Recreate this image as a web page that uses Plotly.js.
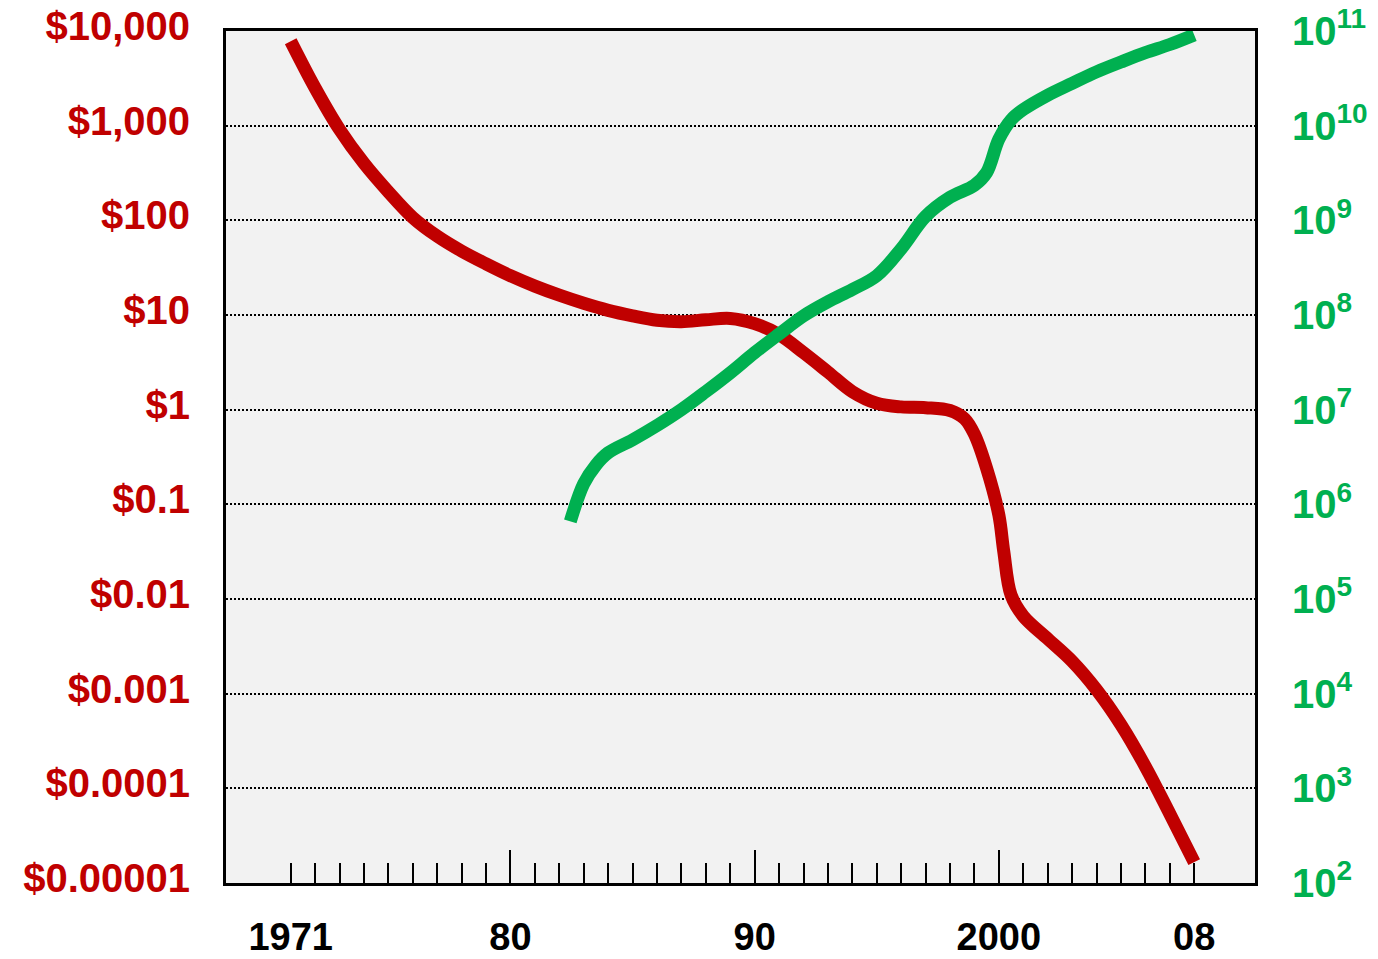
<!DOCTYPE html>
<html>
<head>
<meta charset="utf-8">
<script src="https://cdn.plot.ly/plotly-3.0.1.min.js"></script>
<style>html,body{margin:0;padding:0;background:#fff;}#chart{width:1378px;height:959px;}</style>
</head>
<body>
<div id="chart"></div>
<script>
// Cost (left axis, dollars) by year
const costYears = [1971, 1972, 1973, 1974, 1975, 1976, 1977, 1978, 1979, 1980, 1981, 1982, 1983, 1984, 1985, 1986, 1987, 1988, 1989, 1990, 1991, 1992, 1993, 1994, 1995, 1996, 1997, 1998, 1998.6, 1999, 1999.5, 2000, 2000.2, 2000.5, 2001, 2002, 2003, 2004, 2005, 2006, 2007, 2008];
const costValues = [7800, 2500, 910, 400, 200, 107, 68, 47.3, 34.7, 26, 20.2, 16.2, 13.3, 11.2, 9.8, 8.8, 8.5, 8.9, 9.2, 8.1, 6.2, 4.0, 2.5, 1.55, 1.17, 1.07, 1.05, 0.98, 0.8, 0.55, 0.24, 0.077, 0.032, 0.011, 0.0066, 0.0038, 0.0022, 0.0011, 0.00047, 0.00017, 0.000054, 0.0000166];

// Count (right axis) by year
const countYears = [1982.45, 1983, 1983.5, 1984, 1985, 1986, 1987, 1988, 1989, 1990, 1991, 1992, 1993, 1994, 1995, 1996, 1997, 1998, 1999, 1999.5, 2000, 2000.5, 2001, 2002, 2003, 2004, 2005, 2006, 2007, 2008];
const countValues = [6.6e5, 1.65e6, 2.6e6, 3.5e6, 4.8e6, 6.8e6, 1.0e7, 1.55e7, 2.45e7, 4.0e7, 6.3e7, 9.8e7, 1.38e8, 1.86e8, 2.6e8, 5.0e8, 1.1e9, 1.75e9, 2.35e9, 3.2e9, 7.2e9, 1.15e10, 1.48e10, 2.1e10, 2.8e10, 3.7e10, 4.7e10, 5.9e10, 7.2e10, 9.1e10];

// Tick labels
const xTickVals = [1971, 1980, 1990, 2000, 2008];
const xTickText = ['1971', '80', '90', '2000', '08'];
const minorTickYears = [];
for (let y = 1971; y <= 2008; y++) minorTickYears.push(y);
const majorTickYears = [1980, 1990, 2000];
const leftTickVals = [1e-5, 1e-4, 1e-3, 1e-2, 1e-1, 1, 10, 100, 1000, 10000];
const leftTickText = ['$0.00001', '$0.0001', '$0.001', '$0.01', '$0.1', '$1', '$10', '$100', '$1,000', '$10,000'];
const rightTickVals = [1e2, 1e3, 1e4, 1e5, 1e6, 1e7, 1e8, 1e9, 1e10, 1e11];
const rightTickText = ['10<sup>2</sup>', '10<sup>3</sup>', '10<sup>4</sup>', '10<sup>5</sup>', '10<sup>6</sup>', '10<sup>7</sup>', '10<sup>8</sup>', '10<sup>9</sup>', '10<sup>10</sup>', '10<sup>11</sup>'];

const RED = '#c00000', GREEN = '#00b050';
const FONT = 'Liberation Sans, Arial, sans-serif';
const xRange = [1968.35, 2010.49];

const traces = [
  {x: costYears, y: costValues, type: 'scatter', mode: 'lines', xaxis: 'x', yaxis: 'y',
   line: {color: RED, width: 13, shape: 'spline', smoothing: 1}, hoverinfo: 'skip'},
  {x: countYears, y: countValues, type: 'scatter', mode: 'lines', xaxis: 'x2', yaxis: 'y2',
   line: {color: GREEN, width: 13, shape: 'spline', smoothing: 1}, hoverinfo: 'skip'}
];

const layout = {
  width: 1378, height: 959,
  margin: {l: 226, r: 123, t: 31, b: 76},
  paper_bgcolor: '#ffffff', plot_bgcolor: '#f2f2f2',
  showlegend: false, hovermode: false,
  xaxis: {
    range: xRange, tickmode: 'array', tickvals: xTickVals, ticktext: xTickText,
    ticks: '', showgrid: false, zeroline: false,
    showline: true, linecolor: '#000', linewidth: 3, mirror: true,
    tickfont: {family: FONT, size: 38, color: '#000', weight: 'bold'},
    ticklabelstandoff: 18,
    minor: {tickmode: 'array', tickvals: minorTickYears, ticks: 'inside', ticklen: 20,
            tickwidth: 2, tickcolor: '#000', showgrid: false}
  },
  xaxis2: {
    overlaying: 'x', anchor: 'y2', side: 'bottom', range: xRange,
    tickmode: 'array', tickvals: majorTickYears, ticks: 'inside', ticklen: 33,
    tickwidth: 2, tickcolor: '#000', showticklabels: false, showgrid: false,
    zeroline: false, showline: false
  },
  yaxis: {
    type: 'log', range: [-5, 4], tickmode: 'array', tickvals: leftTickVals, ticktext: leftTickText,
    ticks: '', showgrid: true, gridcolor: '#000', gridwidth: 2, griddash: '2px,2px',
    zeroline: false, showline: true, linecolor: '#000', linewidth: 3, mirror: true,
    tickfont: {family: FONT, size: 40, color: RED, weight: 'bold'},
    ticklabelstandoff: 25, ticklabelshift: -5
  },
  yaxis2: {
    type: 'log', range: [2, 11], overlaying: 'y', side: 'right', anchor: 'x2',
    tickmode: 'array', tickvals: rightTickVals, ticktext: rightTickText,
    ticks: '', showgrid: false, zeroline: false, showline: false,
    tickfont: {family: FONT, size: 40, color: GREEN, weight: 'bold'},
    ticklabelstandoff: 36
  }
};

Plotly.newPlot('chart', traces, layout, {displayModeBar: false, staticPlot: true});
</script>
</body>
</html>
